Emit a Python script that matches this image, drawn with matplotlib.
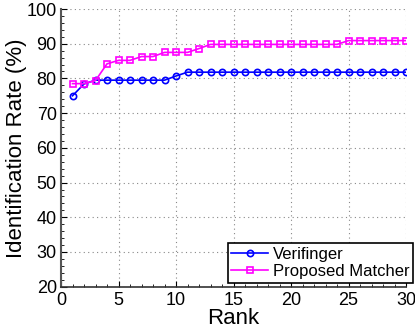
import matplotlib
matplotlib.use("Agg")
import matplotlib.pyplot as plt
from matplotlib.ticker import MultipleLocator

plt.rcParams['font.family'] = ['Liberation Sans', 'DejaVu Sans']

ranks = list(range(1, 31))
verifinger = [75.0, 78.4] + [79.5] * 7 + [80.7] + [81.8] * 20
proposed = [78.5, 78.5, 79.4, 84.2, 85.2, 85.2, 86.3, 86.3, 87.5, 87.5,
            87.5, 88.6] + [89.8] * 12 + [90.9] * 6

fig = plt.figure(figsize=(4.15, 3.30), dpi=100)
ax = fig.add_axes([61 / 415, 1 - 286.7 / 330, 345 / 415, 277.7 / 330])

ax.plot(ranks, verifinger, color='#0000ff', marker='o', markersize=4.5,
        markerfacecolor='none', markeredgewidth=1.2, linewidth=1.2,
        label='Verifinger')
ax.plot(ranks, proposed, color='#ff00ff', marker='s', markersize=4,
        markerfacecolor='none', markeredgewidth=1.2, linewidth=1.2,
        label='Proposed Matcher')

ax.set_xlim(0, 30)
ax.set_ylim(20, 100)
ax.set_xticks(range(0, 31, 5))
ax.set_yticks(range(20, 101, 10))
ax.xaxis.set_minor_locator(MultipleLocator(1))
ax.yaxis.set_minor_locator(MultipleLocator(2))
ax.grid(True, which='major', linestyle=(0, (1, 3)), color='#888888', linewidth=0.8)

for side in ('top', 'right'):
    ax.spines[side].set_visible(False)
ax.spines['left'].set_color('#555555')
ax.spines['left'].set_linewidth(1.5)
ax.spines['bottom'].set_color('#333333')
ax.spines['bottom'].set_linewidth(1.2)
ax.tick_params(which='both', direction='in', labelsize=13)
ax.tick_params(axis='y', pad=3)
ax.tick_params(axis='x', pad=4)
ax.tick_params(which='major', length=4)
ax.tick_params(which='minor', length=2)

ax.set_xlabel('Rank', fontsize=16, labelpad=-1)
ax.set_ylabel('Identification Rate (%)', fontsize=16, labelpad=0)

leg = ax.legend(loc='lower right', bbox_to_anchor=(1.02, 0.015), fontsize=12,
                fancybox=False, framealpha=1, edgecolor='black',
                handlelength=2.2, handletextpad=0.3, borderpad=0.2,
                labelspacing=0.15, borderaxespad=0)
leg.get_frame().set_linewidth(1.2)

fig.savefig('out.png', dpi=100)
